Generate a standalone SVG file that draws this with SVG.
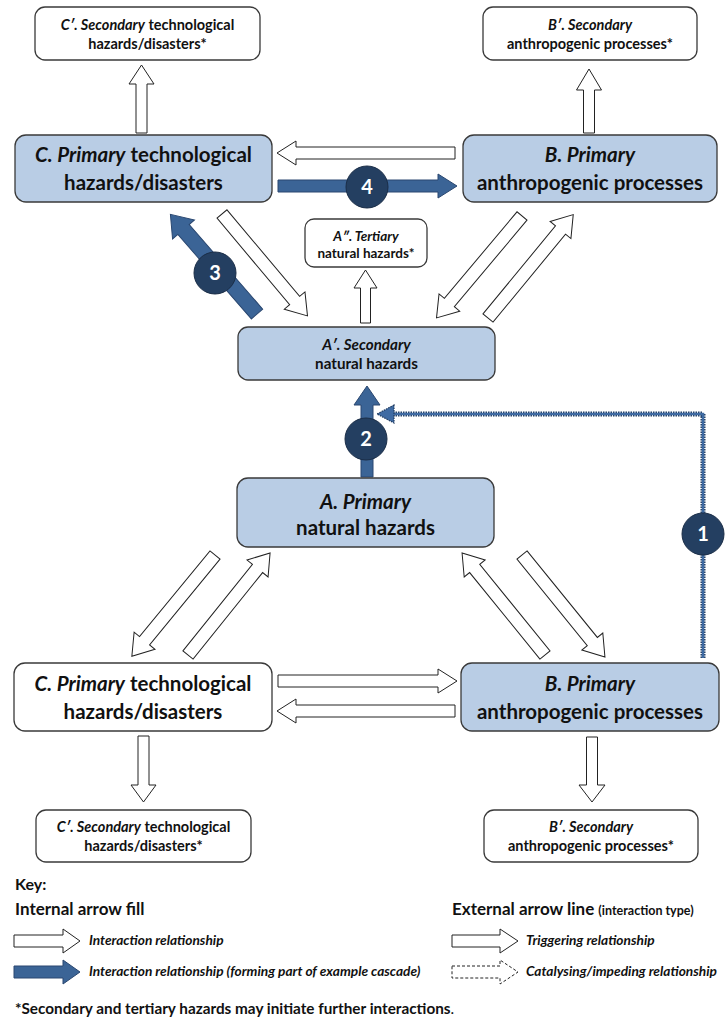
<svg xmlns="http://www.w3.org/2000/svg" width="725" height="1027" viewBox="0 0 725 1027">
<style>
.pn{fill:#b9cde5;stroke:#3a3a3a;stroke-width:1.3}
.sn{fill:#fff;stroke:#3a3a3a;stroke-width:1.3}
.wa{fill:#fff;stroke:#222;stroke-width:1}
.ba{fill:#3b6496;stroke:#2a4770;stroke-width:1}
.da{fill:#fff;stroke:#222;stroke-width:1;stroke-dasharray:3 2}
.t{font-family:Lato,'Open Sans',sans-serif;font-weight:bold;fill:#111;text-anchor:middle}
.l{text-anchor:start}
.i{font-style:italic}
.p{font-size:20.5px}
.s{font-size:14.5px}
.k{font-size:13.7px}
.c{fill:#243f61;stroke:#1a2d47;stroke-width:1}
.n{font-family:Lato,'Open Sans',sans-serif;font-weight:bold;fill:#fff;font-size:20px;text-anchor:middle}
</style>
<rect width="725" height="1027" fill="#fff"/>

<g id="connectors">
  <polygon class="wa" points="136,133 136,84 129,84 141.5,65 154,84 147,84 147,133"/>
  <polygon class="wa" points="583.5,133 583.5,90 576.5,90 589,69 601.5,90 594.5,90 594.5,133"/>
  <polygon class="wa" points="455,147 296,147 296,141 277,153 296,165 296,159 455,159"/>
  <polygon class="ba" points="278,180 438,180 438,174 457,186 438,198 438,192 278,192"/>
  <polygon class="wa" points="360.5,323 360.5,288 354,288 365.5,270 377,288 370.5,288 370.5,323"/>
  <polygon class="ba" transform="translate(257,314) rotate(-131)" points="0,-7.5 112,-7.5 112,-14.5 132,0 112,14.5 112,7.5 0,7.5"/>
  <polygon class="wa" transform="translate(222,214) rotate(50)" points="0,-6.5 113,-6.5 113,-13.5 133,0 113,13.5 113,6.5 0,6.5"/>
  <polygon class="wa" transform="translate(522,216) rotate(130)" points="0,-6.5 113,-6.5 113,-13.5 133,0 113,13.5 113,6.5 0,6.5"/>
  <polygon class="wa" transform="translate(488,318) rotate(-50.5)" points="0,-6.5 114,-6.5 114,-13.5 134,0 114,13.5 114,6.5 0,6.5"/>
  <polygon class="ba" points="361,477 361,405 354,405 367,386 380,405 373,405 373,477"/>
  <polyline points="703,658 703,414 393,414" fill="none" stroke="#1f3a5f" stroke-width="5" stroke-dasharray="1.5 1"/>
  <polyline points="703,658 703,414 393,414" fill="none" stroke="#3f6ba3" stroke-width="2.5"/>
  <polygon points="394,405 377,414 394,423" fill="#3f6ba3" stroke="#1f3a5f" stroke-width="1.2" stroke-dasharray="1.5 1"/>
  <polygon class="wa" transform="translate(215,555) rotate(129.4)" points="0,-6.5 111,-6.5 111,-13.5 131,0 111,13.5 111,6.5 0,6.5"/>
  <polygon class="wa" transform="translate(188,655) rotate(-51.2)" points="0,-6.5 111,-6.5 111,-13.5 131,0 111,13.5 111,6.5 0,6.5"/>
  <polygon class="wa" transform="translate(545,655) rotate(-129.1)" points="0,-6.5 111.5,-6.5 111.5,-13.5 131.5,0 111.5,13.5 111.5,6.5 0,6.5"/>
  <polygon class="wa" transform="translate(522,555) rotate(50.9)" points="0,-6.5 111.5,-6.5 111.5,-13.5 131.5,0 111.5,13.5 111.5,6.5 0,6.5"/>
  <polygon class="wa" points="278,675 438,675 438,669 457,681 438,693 438,687 278,687"/>
  <polygon class="wa" points="455,705 296,705 296,699 277,711 296,723 296,717 455,717"/>
  <polygon class="wa" points="138,736 138,785 131,785 143.5,802 156,785 149,785 149,736"/>
  <polygon class="wa" points="586.5,737 586.5,785 579,785 592,802 605,785 597.5,785 597.5,737"/>
  <g id="badge1"><circle class="c" cx="703" cy="534" r="21"/><text class="n" x="703" y="541">1</text></g>
  <g id="badge2"><circle class="c" cx="366" cy="439" r="21"/><text class="n" x="366" y="446">2</text></g>
  <g id="badge3"><circle class="c" cx="215" cy="273" r="21"/><text class="n" x="215" y="280">3</text></g>
  <g id="badge4"><circle class="c" cx="367" cy="187" r="21"/><text class="n" x="367" y="194">4</text></g>
</g>

<g id="node-Cs-top">
  <rect class="sn" x="35" y="7" width="225" height="53" rx="10"/>
  <text class="t s" x="147.5" y="30"><tspan class="i">C′. Secondary</tspan> technological</text>
  <text class="t s" x="147.5" y="49">hazards/disasters*</text>
</g>
<g id="node-Bs-top">
  <rect class="sn" x="483" y="7" width="214" height="53" rx="10"/>
  <text class="t s i" x="590" y="30">B′. Secondary</text>
  <text class="t s" x="590" y="49">anthropogenic processes*</text>
</g>
<g id="node-C-top">
  <rect class="pn" x="15" y="135" width="257" height="67" rx="11"/>
  <text class="t p" x="143.5" y="162"><tspan class="i">C. Primary</tspan> technological</text>
  <text class="t p" x="143.5" y="190">hazards/disasters</text>
</g>
<g id="node-B-top">
  <rect class="pn" x="463" y="135" width="254" height="67" rx="11"/>
  <text class="t p i" x="590" y="162">B. Primary</text>
  <text class="t p" x="590" y="190">anthropogenic processes</text>
</g>
<g id="node-Att">
  <rect class="sn" x="305" y="219" width="122" height="48" rx="9"/>
  <text class="t i" style="font-size:13.5px" x="366" y="241">A″. Tertiary</text>
  <text class="t" style="font-size:13.5px" x="366" y="258">natural hazards*</text>
</g>
<g id="node-As">
  <rect class="pn" x="238" y="327" width="257" height="53" rx="10"/>
  <text class="t i" style="font-size:15.2px" x="366.5" y="350">A′. Secondary</text>
  <text class="t" style="font-size:15.2px" x="366.5" y="369">natural hazards</text>
</g>
<g id="node-A">
  <rect class="pn" x="237" y="478" width="257" height="69" rx="11"/>
  <text class="t p i" x="365.5" y="509">A. Primary</text>
  <text class="t p" x="365.5" y="535">natural hazards</text>
</g>
<g id="node-C-bottom">
  <rect class="sn" x="14" y="663" width="258" height="68" rx="11"/>
  <text class="t p" x="143" y="691"><tspan class="i">C. Primary</tspan> technological</text>
  <text class="t p" x="143" y="719">hazards/disasters</text>
</g>
<g id="node-B-bottom">
  <rect class="pn" x="461" y="663" width="258" height="68" rx="11"/>
  <text class="t p i" x="590" y="691">B. Primary</text>
  <text class="t p" x="590" y="719">anthropogenic processes</text>
</g>
<g id="node-Cs-bottom">
  <rect class="sn" x="36" y="810" width="215" height="52" rx="10"/>
  <text class="t s" x="143.5" y="832"><tspan class="i">C′. Secondary</tspan> technological</text>
  <text class="t s" x="143.5" y="851">hazards/disasters*</text>
</g>
<g id="node-Bs-bottom">
  <rect class="sn" x="484" y="810" width="214" height="52" rx="10"/>
  <text class="t s i" x="591" y="832">B′. Secondary</text>
  <text class="t s" x="591" y="851">anthropogenic processes*</text>
</g>

<g id="key">
  <text class="t l" style="font-size:16px" x="15" y="890">Key:</text>
  <text class="t l" style="font-size:17px" x="15" y="915">Internal arrow fill</text>
  <text class="t l" style="font-size:17px" x="452" y="915">External arrow line <tspan style="font-size:12.5px">(interaction type)</tspan></text>
  <polygon class="wa" points="14,935 63,935 63,929 80,941 63,953 63,947 14,947"/>
  <text class="t l i k" x="89" y="945">Interaction relationship</text>
  <polygon class="ba" points="14,966 63,966 63,960 80,972 63,984 63,978 14,978"/>
  <text class="t l i k" x="89" y="976">Interaction relationship (forming part of example cascade)</text>
  <polygon class="wa" points="452,935 500,935 500,929 518,941 500,953 500,947 452,947"/>
  <text class="t l i k" x="526" y="945">Triggering relationship</text>
  <polygon class="da" points="452,966 500,966 500,960 518,972 500,984 500,978 452,978"/>
  <text class="t l i k" x="526" y="976">Catalysing/impeding relationship</text>
  <text class="t l" style="font-size:15.3px" x="15" y="1014">*Secondary and tertiary hazards may initiate further interactions<tspan style="font-weight:normal">.</tspan></text>
</g>
</svg>
